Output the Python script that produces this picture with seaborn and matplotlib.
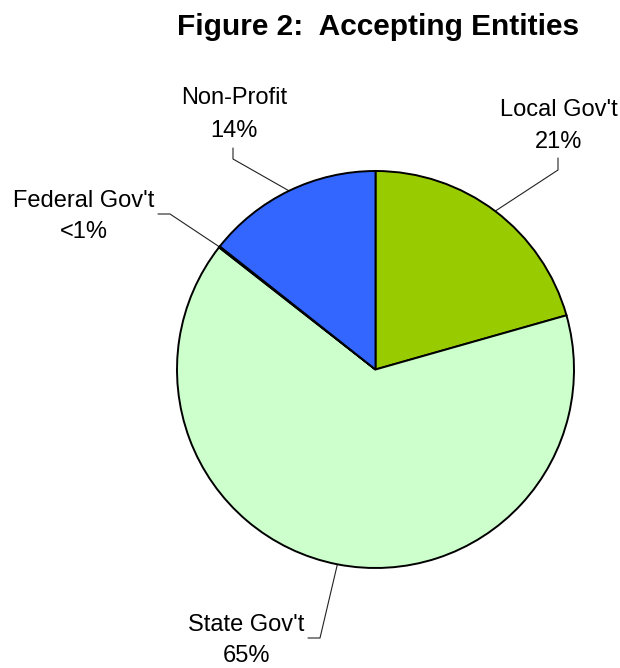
import numpy as np
import matplotlib
matplotlib.use("Agg")
import matplotlib.pyplot as plt
import seaborn as sns

# ---- data ----
categories = ["Local Gov't", "State Gov't", "Federal Gov't", "Non-Profit"]
shares = [20.6, 64.95, 0.1, 14.35]
pct_labels = ["21%", "65%", "<1%", "14%"]
colors = ["#99CC00", "#CCFFCC", "#FFFF99", "#3366FF"]

sns.set_theme(style="white")
plt.rcParams['font.family'] = ['Liberation Sans', 'DejaVu Sans']

W, H = 620, 668
fig = plt.figure(figsize=(W / 100, H / 100), dpi=100)
fig.patch.set_facecolor("white")

cx, cy, R = 375.5, 369.5, 198.5
ax = fig.add_axes([(cx - R) / W, (H - cy - R) / H, 2 * R / W, 2 * R / H])

wedges, _ = ax.pie(shares, colors=colors, startangle=90, counterclock=False,
                   radius=1.0,
                   wedgeprops=dict(edgecolor="black", linewidth=1.4))
ax.set_xlim(-1, 1)
ax.set_ylim(-1, 1)
ax.set_aspect("equal")
ax.axis("off")


def p2d(px, py):
    return ((px - cx) / R, (cy - py) / R)


# label layout (pixel positions of elbow and text), annotations only
layout = {
    "Local Gov't": dict(elbow=[(558, 170), (558, 158)], text=(559, 116, 148)),
    "State Gov't": dict(elbow=[(320, 638), (308, 638)], text=(246, 631, 662)),
    "Federal Gov't": dict(elbow=[(170, 214), (158, 214)], text=(84, 207, 238)),
    "Non-Profit": dict(elbow=[(233, 159), (233, 148)], text=(234, 104, 137)),
}

for w, cat, pct in zip(wedges, categories, pct_labels):
    mid = np.deg2rad((w.theta1 + w.theta2) / 2)
    ax0, ay0 = np.cos(mid), np.sin(mid)
    pts = [(ax0, ay0)] + [p2d(*p) for p in layout[cat]["elbow"]]
    xs, ys = zip(*pts)
    ax.plot(xs, ys, color="#222222", linewidth=0.8, clip_on=False, zorder=0.5)
    tx, b1, b2 = layout[cat]["text"]
    fig.text(tx / W, 1 - b1 / H, cat, ha="center", va="baseline",
             fontsize=17, color="black")
    fig.text(tx / W, 1 - b2 / H, pct, ha="center", va="baseline",
             fontsize=17, color="black")

fig.text(378.5 / W, 1 - 35 / H, "Figure 2:  Accepting Entities", ha="center",
         va="baseline", fontsize=21.5, fontweight="bold", color="black")

fig.savefig("out.png", dpi=100, facecolor="white")
